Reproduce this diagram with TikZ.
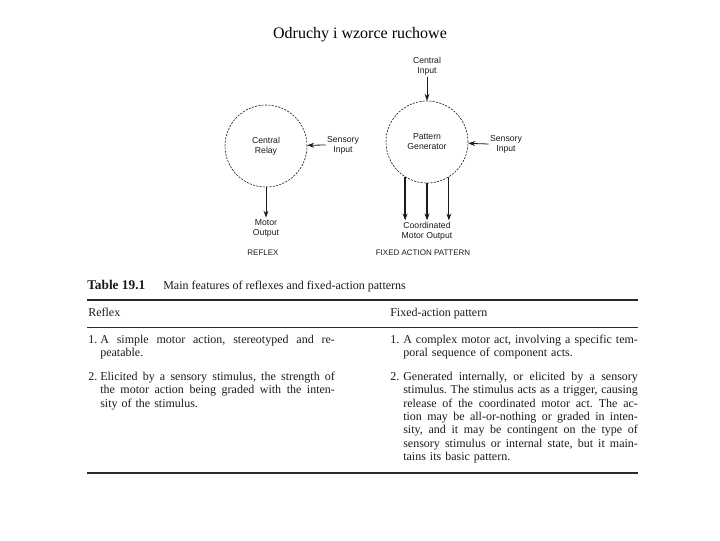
\documentclass[tikz,border=0pt]{standalone}
\usepackage{fontspec}
\setmainfont{Liberation Serif}
\newfontfamily\diagfont{Liberation Sans}
\usepackage{tikz}
\usetikzlibrary{
  arrows.meta,
  positioning,
  calc
}
\definecolor{rxInk}{HTML}{1A1A1A}
\definecolor{rxRule}{HTML}{2B2B2B}
\newlength{\colw}
\setlength{\colw}{176pt}
\newcommand{\jl}[1]{\makebox[\colw][s]{\spaceskip=0pt\xspaceskip=0pt\strut #1}}
\frenchspacing
\tikzset{
  centre/.style={
    draw=rxInk, circle, minimum size=61.5pt, inner sep=0pt, line width=0.45pt,
    dash pattern=on 1.6pt off 0.9pt, font=\diagfont\fontsize{6.5}{7.5}\selectfont,
    align=center, text=rxInk
  },
  lbl/.style={font=\diagfont\fontsize{6.5}{7.5}\selectfont, align=center, inner sep=1pt, text=rxInk},
  caption/.style={font=\diagfont\fontsize{6}{7}\selectfont, inner sep=1pt, text=rxInk},
  feed/.style={-{Stealth[length=1.8mm, width=1.3mm]}, line width=0.6pt, rxInk},
  outflow/.style={feed, line width=1.1pt},
  tabtext/.style={font=\fontsize{9}{10.1}\selectfont, inner sep=0pt, anchor=north west, align=left, text=rxInk},
  para/.style={tabtext, text width=\colw},
  headline/.style={tabtext, anchor=base west},
  toprule/.style={line width=0.9pt, rxRule},
  midrule/.style={line width=0.5pt, rxRule}
}

\begin{document}
\begin{tikzpicture}[x=0.75pt, y=-0.75pt]
  \useasboundingbox (0,0) rectangle (720,540);
  \node[font=\fontsize{12}{14}\selectfont] (heading) at (360,35) {Odruchy i wzorce ruchowe};

  \node[centre] (relay) at (266,146) {Central\\Relay};
  \node[lbl] (sinl) at (343,145) {Sensory\\Input};
  \node[lbl] (mout) at (266,228) {Motor\\Output};
  \node[caption] (reflex) at (263,253) {REFLEX};
  \draw[feed] (sinl.west) -- (relay);
  \draw[feed] (relay.south) -- (mout.north);

  \node[centre] (pgen) at (427,142) {Pattern\\Generator};
  \node[lbl] (cin) at (427,66) {Central\\Input};
  \node[lbl] (sinr) at (506,144) {Sensory\\Input};
  \node[lbl] (cmout) at (427,231) {Coordinated\\Motor Output};
  \node[caption] (fap) at (423,253) {FIXED ACTION PATTERN};
  \draw[feed] (cin.south) -- (pgen.north);
  \draw[feed] (sinr.west) -- (pgen);
  \draw[outflow] (pgen.-122) -- (pgen.-122 |- cmout.north);
  \draw[outflow] (pgen.south) -- (cmout.north);
  \draw[feed] (pgen.-58) -- (pgen.-58 |- cmout.north);

  \node[headline, font=\bfseries\fontsize{10}{12}\selectfont] (tabno) at (87,289) {Table 19.1};
  \node[headline] (tabtitle) at (163,289) {Main features of reflexes and fixed-action patterns};
  \draw[toprule] (87,300) -- (638,300);
  \node[headline] (hreflex) at (88,316) {Reflex};
  \node[headline] (hfap) at (390,316) {Fixed-action pattern};
  \draw[midrule] (87,327) -- (638,327);

  \node[tabtext] (l1n) at (88,333.4) {\strut 1.};
  \node[para] (l1) at (100,333.4) {\jl{A simple motor action, stereotyped and re-}\\
    \strut peatable.};
  \node[tabtext] (l2n) at (88,370.4) {\strut 2.};
  \node[para] (l2) at (100,370.4) {\jl{Elicited by a sensory stimulus, the strength of}\\
    \jl{the motor action being graded with the inten-}\\
    \strut sity of the stimulus.};

  \node[tabtext] (r1n) at (390,333.4) {\strut 1.};
  \node[para] (r1) at (403,333.4) {\jl{A complex motor act, involving a specific tem-}\\
    \strut poral sequence of component acts.};
  \node[tabtext] (r2n) at (390,370.4) {\strut 2.};
  \node[para] (r2) at (403,370.4) {\jl{Generated internally, or elicited by a sensory}\\
    \jl{stimulus. The stimulus acts as a trigger, causing}\\
    \jl{release of the coordinated motor act. The ac-}\\
    \jl{tion may be all-or-nothing or graded in inten-}\\
    \jl{sity, and it may be contingent on the type of}\\
    \jl{sensory stimulus or internal state, but it main-}\\
    \strut tains its basic pattern.};
  \draw[toprule] (87,473) -- (638,473);
\end{tikzpicture}
\end{document}
